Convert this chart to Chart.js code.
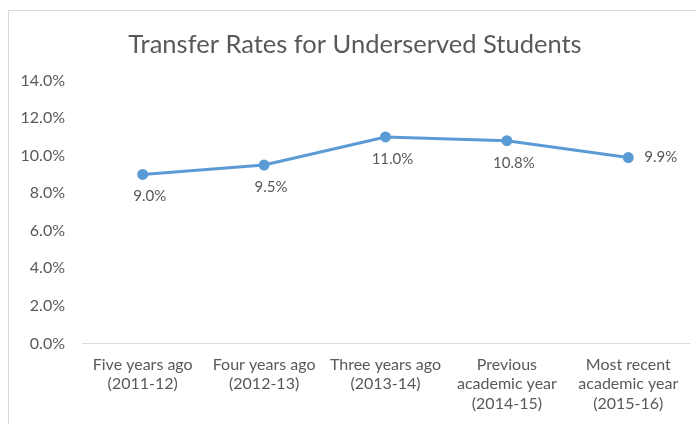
<!DOCTYPE html>
<html>
<head>
<meta charset="utf-8">
<script src="https://cdn.jsdelivr.net/npm/chart.js@4"></script>
<style>
  html, body { margin: 0; padding: 0; background: #fff; overflow: hidden; }
  #box { position: absolute; left: 8px; top: 10px; width: 700px; height: 430px;
         border: 1px solid #d9d9d9; box-sizing: border-box; }
  #wrap { position: absolute; left: 12px; top: 0; width: 676px; height: 414px; }
</style>
</head>
<body>
<div id="box"><div id="wrap"><canvas id="transferChart"></canvas></div></div>
<script>
const categories = [
    ["Five years ago", "(2011-12)"],
    ["Four years ago", "(2012-13)"],
    ["Three years ago", "(2013-14)"],
    ["Previous", "academic year", "(2014-15)"],
    ["Most recent", "academic year", "(2015-16)"]
];
const transferRates = [9.0, 9.5, 11.0, 10.8, 9.9];
const yTicks = [0, 2, 4, 6, 8, 10, 12, 14];

const fontFam = "Lato, 'Open Sans', sans-serif";
const grey = "#595959";

// etiquetas de datos estilo Excel
const dataLabels = {
    id: "dataLabels",
    afterDatasetsDraw(chart) {
        const ctx = chart.ctx;
        const meta = chart.getDatasetMeta(0);
        ctx.save();
        ctx.font = "15px " + fontFam;
        ctx.fillStyle = grey;
        ctx.textBaseline = "middle";
        meta.data.forEach((pt, i) => {
            const txt = transferRates[i].toFixed(1) + "%";
            if (i === meta.data.length - 1) {
                ctx.textAlign = "left";
                ctx.fillText(txt, pt.x + 16, pt.y);
            } else {
                ctx.textAlign = "center";
                ctx.fillText(txt, pt.x + 7, pt.y + 22);
            }
        });
        ctx.restore();
    }
};

document.addEventListener("DOMContentLoaded", () => {
    const ctx = document.getElementById("transferChart");
    new Chart(ctx, {
        type: "line",
        data: {
            labels: categories,
            datasets: [{
                data: transferRates,
                borderColor: "#5b9bd5",
                backgroundColor: "#5b9bd5",
                borderWidth: 3,
                pointRadius: 4,
                pointHoverRadius: 4,
                tension: 0
            }]
        },
        options: {
            responsive: true,
            maintainAspectRatio: false,
            animation: false,
            layout: { padding: { left: 0, right: 8, top: 0, bottom: 0 } },
            plugins: {
                legend: { display: false },
                tooltip: { enabled: false },
                title: {
                    display: true,
                    text: "Transfer Rates for Underserved Students",
                    color: grey,
                    font: { family: fontFam, size: 25.5, weight: "normal" },
                    padding: { top: 18, bottom: 21 }
                }
            },
            scales: {
                x: {
                    offset: true,
                    grid: { display: false, drawTicks: false },
                    border: { display: true, color: "#d9d9d9", width: 1 },
                    ticks: {
                        color: grey,
                        font: { family: fontFam, size: 16, lineHeight: 1.2 },
                        padding: 12,
                        maxRotation: 0,
                        autoSkip: false
                    }
                },
                y: {
                    min: 0,
                    max: 14,
                    afterFit(axis) { axis.width = 61; },
                    afterBuildTicks(axis) { axis.ticks = yTicks.map(v => ({ value: v })); },
                    grid: { display: false, drawTicks: false },
                    border: { display: false },
                    ticks: {
                        color: grey,
                        font: { family: fontFam, size: 16 },
                        padding: 17,
                        callback: v => v.toFixed(1) + "%"
                    }
                }
            }
        },
        plugins: [dataLabels]
    });
});
</script>
</body>
</html>
